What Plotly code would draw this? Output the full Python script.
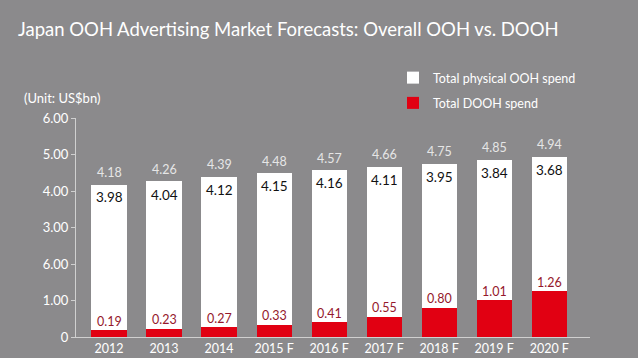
import plotly.graph_objects as go

years = ["2012", "2013", "2014", "2015 F", "2016 F", "2017 F", "2018 F", "2019 F", "2020 F"]
physical = [3.98, 4.04, 4.12, 4.15, 4.16, 4.11, 3.95, 3.84, 3.68]
dooh = [0.19, 0.23, 0.27, 0.33, 0.41, 0.55, 0.80, 1.01, 1.26]
totals = [4.18, 4.26, 4.39, 4.48, 4.57, 4.66, 4.75, 4.85, 4.94]
tick_vals = [0, 1, 2, 3, 4, 5, 6]
tick_text = ["0", "1.00", "6.00", "3.00", "4.00", "5.00", "6.00"]

BG = "#8b8a8c"
RED = "#e10012"
FONT = "Lato"

fig = go.Figure()
fig.add_trace(go.Bar(x=years, y=dooh, name="Total DOOH spend", marker_color=RED,
                     marker_line_width=0, width=0.64, legendrank=2, legendgroup="dooh",
                     hoverinfo="skip"))
fig.add_trace(go.Bar(x=years, y=physical, name="Total physical OOH spend", marker_color="white",
                     marker_line_width=0, width=0.64, legendrank=1, legendgroup="phys",
                     hoverinfo="skip"))

for i, (p, d, t) in enumerate(zip(physical, dooh, totals)):
    fig.add_annotation(x=i, y=t, text=f"{t:.2f}", showarrow=False, yshift=12,
                       yanchor="middle", font=dict(family=FONT, size=12.5, color="#e6e6e6"))
    fig.add_annotation(x=i, y=t, text=f"{p:.2f}", showarrow=False, yshift=-13,
                       yanchor="middle", font=dict(family=FONT, size=13.5, color="#111111"))
    fig.add_annotation(x=i, y=d, text=f"{d:.2f}", showarrow=False, yshift=9,
                       yanchor="middle", font=dict(family=FONT, size=12.5, color="#95182c"))

fig.update_layout(
    width=638, height=358,
    paper_bgcolor=BG, plot_bgcolor=BG,
    barmode="stack",
    margin=dict(l=76, r=48, t=118, b=21, autoexpand=False),
    font=dict(family=FONT, color="white", size=12),
    title=dict(text="Japan OOH Advertising Market Forecasts: Overall OOH vs. DOOH",
               x=18/638, xanchor="left", xref="container",
               y=1-30/358, yanchor="middle", yref="container",
               font=dict(family=FONT, size=18.5, color="white")),
    xaxis=dict(showgrid=False, showline=True, linecolor="#d0d0d0", linewidth=1,
               ticks="", tickfont=dict(size=12.5, color="white"), range=[-0.6, 8.74],
               fixedrange=True),
    yaxis=dict(range=[0, 6], tickvals=tick_vals, ticktext=tick_text, showgrid=False,
               showline=True, linecolor="#d0d0d0", linewidth=1, ticks="outside",
               ticklen=4, tickcolor="#d0d0d0", tickfont=dict(size=13, color="white"),
               zeroline=False, fixedrange=True),
    legend=dict(x=(393-76)/514, xanchor="left", y=(337-63)/219, yanchor="top",
                traceorder="grouped", tracegroupgap=6,
                bgcolor="rgba(0,0,0,0)", font=dict(family=FONT, size=12.5, color="white")),
    showlegend=True,
)
fig.add_annotation(text="(Unit: US$bn)", xref="paper", yref="paper",
                   x=(22-76)/514, y=(337-98)/219, xanchor="left", yanchor="middle",
                   showarrow=False, font=dict(family=FONT, size=13, color="white"))

fig.write_html("out.html", config={"displayModeBar": False},
               post_script="document.body.style.margin='0';")
